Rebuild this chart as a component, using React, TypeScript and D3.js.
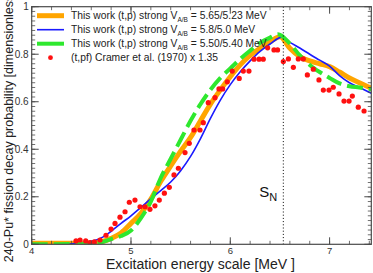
import React from "react";
import * as d3 from "d3";

// curves: energy (MeV) -> fission probability
const orangeX = [4.0, 4.4, 4.6, 4.7, 4.8, 4.9, 5.0, 5.1, 5.2, 5.3, 5.4, 5.5, 5.6, 5.7, 5.8, 5.9, 6.0, 6.1, 6.2, 6.3, 6.4, 6.5, 6.6, 6.7, 6.8, 6.9, 7.0, 7.1, 7.2, 7.3, 7.42];
const orangeY = [0.004, 0.004, 0.005, 0.01, 0.025, 0.048, 0.088, 0.13, 0.19, 0.265, 0.33, 0.392, 0.45, 0.52, 0.59, 0.65, 0.705, 0.755, 0.795, 0.825, 0.852, 0.874, 0.825, 0.79, 0.772, 0.76, 0.748, 0.725, 0.70, 0.68, 0.657];

const blueX = [4.25, 4.4, 4.5, 4.6, 4.7, 4.8, 4.9, 5.0, 5.1, 5.2, 5.3, 5.4, 5.5, 5.6, 5.7, 5.8, 5.9, 6.0, 6.1, 6.2, 6.3, 6.4, 6.52, 6.6, 6.7, 6.8, 6.9, 7.0, 7.1, 7.2, 7.3, 7.42];
const blueY = [0.0, 0.002, 0.006, 0.013, 0.027, 0.055, 0.088, 0.12, 0.155, 0.192, 0.226, 0.262, 0.31, 0.37, 0.445, 0.53, 0.607, 0.672, 0.726, 0.772, 0.812, 0.843, 0.872, 0.85, 0.826, 0.80, 0.775, 0.75, 0.71, 0.68, 0.66, 0.636];

const greenX = [4.0, 4.6, 4.7, 4.8, 4.9, 5.0, 5.1, 5.2, 5.3, 5.4, 5.5, 5.6, 5.7, 5.8, 5.9, 6.0, 6.1, 6.2, 6.3, 6.4, 6.48, 6.6, 6.7, 6.8, 6.9, 7.0, 7.1, 7.2, 7.3, 7.42];
const greenY = [0.0, 0.002, 0.008, 0.022, 0.035, 0.058, 0.11, 0.18, 0.28, 0.36, 0.44, 0.52, 0.59, 0.65, 0.70, 0.74, 0.78, 0.815, 0.848, 0.87, 0.884, 0.845, 0.795, 0.755, 0.725, 0.70, 0.677, 0.665, 0.66, 0.652];

// Cramer et al. (1970) x 1.35
const cramerX = [4.446, 4.487, 4.544, 4.587, 4.631, 4.688, 4.748, 4.799, 4.839, 4.889, 4.94, 4.983, 5.04, 5.091, 5.141, 5.191, 5.241, 5.285, 5.336, 5.386, 5.433, 5.477, 5.544, 5.587, 5.634, 5.695, 5.728, 5.778, 5.846, 5.886, 5.923, 5.97, 6.02, 6.09, 6.131, 6.188, 6.239, 6.29, 6.332, 6.376, 6.44, 6.476, 6.534, 6.585, 6.635, 6.685, 6.735, 6.776, 6.836, 6.893, 6.937, 6.994, 7.037, 7.095, 7.145, 7.196, 7.229, 7.289, 7.347];
const cramerY = [0.014, 0.018, 0.014, 0.007, 0.01, 0.018, 0.038, 0.064, 0.088, 0.114, 0.137, 0.177, 0.186, 0.158, 0.158, 0.147, 0.162, 0.186, 0.215, 0.24, 0.292, 0.32, 0.386, 0.425, 0.481, 0.481, 0.512, 0.596, 0.617, 0.654, 0.654, 0.684, 0.729, 0.698, 0.729, 0.729, 0.779, 0.779, 0.779, 0.827, 0.818, 0.818, 0.769, 0.78, 0.745, 0.78, 0.78, 0.713, 0.737, 0.692, 0.649, 0.649, 0.661, 0.633, 0.603, 0.603, 0.624, 0.577, 0.561];

const xTicks = [4, 5, 6, 7];
const yTicks = [0, 0.2, 0.4, 0.6, 0.8, 1];
const neutronSep = 6.534;

const legendItems = [
  { label: "5.65/5.23 MeV", color: "#ffa500", width: 5 },
  { label: "5.8/5.0 MeV", color: "#1a1aff", width: 1.6 },
  { label: "5.50/5.40 MeV", color: "#2ee82e", width: 4 },
];

const W = 373, H = 273;
const L = 31.7, R = 371.3, T = 6.7, B = 244.3;

export default function App() {
  const x = d3.scaleLinear().domain([4, 7.42]).range([L, R]);
  const y = d3.scaleLinear().domain([0, 1]).range([B, T]);

  const line = d3.line<[number, number]>()
    .x(d => x(d[0]))
    .y(d => y(d[1]))
    .curve(d3.curveMonotoneX);

  const zip = (xs: number[], ys: number[]) => xs.map((v, i) => [v, ys[i]] as [number, number]);

  const xMinor = d3.range(4, 7.42, 0.2);
  const yMinor = d3.range(0, 1.001, 0.02);
  const font = "'Liberation Sans', Arial, sans-serif";
  const frame = "#4a4a4a";

  return (
    <div style={{ position: "absolute", left: 0, top: 0 }}>
      <svg width={W} height={H} style={{ display: "block", background: "#fff" }} fontFamily={font}>
        <defs>
          <clipPath id="plot">
            <rect x={L} y={T} width={R - L} height={B - T} />
          </clipPath>
        </defs>

        <g clipPath="url(#plot)">
          <path d={line(zip(orangeX, orangeY)) || ""} fill="none" stroke="#ffa500" strokeWidth={5} strokeLinejoin="round" />
          <path d={line(zip(blueX, blueY)) || ""} fill="none" stroke="#1a1aff" strokeWidth={1.6} />
          <path d={line(zip(greenX, greenY)) || ""} fill="none" stroke="#2ee82e" strokeWidth={4} strokeDasharray="16,6" />
          {cramerX.map((v, i) => (
            <circle key={i} cx={x(v)} cy={y(cramerY[i])} r={2.6} fill="#ff1010" />
          ))}
        </g>

        {/* S_N marker */}
        <line x1={x(neutronSep)} x2={x(neutronSep)} y1={T} y2={B} stroke="#000" strokeWidth={1} strokeDasharray="1,2.2" />
        <text x={x(neutronSep) - 24} y={197} fontSize={15} fill="#111">
          S<tspan fontSize={11} dy={4}>N</tspan>
        </text>

        {/* frame and ticks */}
        <rect x={L} y={T} width={R - L} height={B - T} fill="none" stroke={frame} strokeWidth={1.2} />
        {xMinor.map((v, i) => (
          <g key={"xm" + i} stroke={frame} strokeWidth={0.8}>
            <line x1={x(v)} x2={x(v)} y1={B} y2={B - 3.5} />
            <line x1={x(v)} x2={x(v)} y1={T} y2={T + 3.5} />
          </g>
        ))}
        {xTicks.map(v => (
          <g key={"x" + v}>
            <line x1={x(v)} x2={x(v)} y1={B} y2={B - 7} stroke={frame} strokeWidth={1} />
            <line x1={x(v)} x2={x(v)} y1={T} y2={T + 7} stroke={frame} strokeWidth={1} />
            <text x={x(v)} y={B + 9.5} fontSize={9.5} textAnchor="middle" fill="#333">{v}</text>
          </g>
        ))}
        {yMinor.map((v, i) => (
          <g key={"ym" + i} stroke={frame} strokeWidth={0.8}>
            <line x1={L} x2={L + 3.5} y1={y(v)} y2={y(v)} />
            <line x1={R} x2={R - 3.5} y1={y(v)} y2={y(v)} />
          </g>
        ))}
        {yTicks.map(v => (
          <g key={"y" + v}>
            <line x1={L} x2={L + 7} y1={y(v)} y2={y(v)} stroke={frame} strokeWidth={1} />
            <line x1={R} x2={R - 7} y1={y(v)} y2={y(v)} stroke={frame} strokeWidth={1} />
            <text x={L - 3} y={y(v) + 3.5} fontSize={10} textAnchor="end" fill="#333">{v}</text>
          </g>
        ))}

        {/* legend */}
        {legendItems.map((it, i) => (
          <g key={"lg" + i}>
            <line x1={37} x2={64} y1={15.7 + i * 14} y2={15.7 + i * 14} stroke={it.color} strokeWidth={it.width} />
            <text x={71} y={19.3 + i * 14} fontSize={10.3} fill="#222">
              This work (t,p) strong V<tspan fontSize={6.5} dy={3}>A/B</tspan>
              <tspan dy={-3}> = {it.label}</tspan>
            </text>
          </g>
        ))}
        <circle cx={50.5} cy={57.7} r={2.4} fill="#ff1010" />
        <text x={71} y={61.3} fontSize={10.3} fill="#222">(t,pf) Cramer et al. (1970) x 1.35</text>

        {/* axis titles */}
        <text x={106} y={269} fontSize={14} textLength={189} lengthAdjust="spacingAndGlyphs" fill="#222">
          Excitation energy scale [MeV ]
        </text>
        <text transform={`translate(12.5, 125) rotate(-90)`} fontSize={12.5} textAnchor="middle" fill="#222">
          240-Pu* fission decay probability [dimensionless ]
        </text>
      </svg>
    </div>
  );
}
